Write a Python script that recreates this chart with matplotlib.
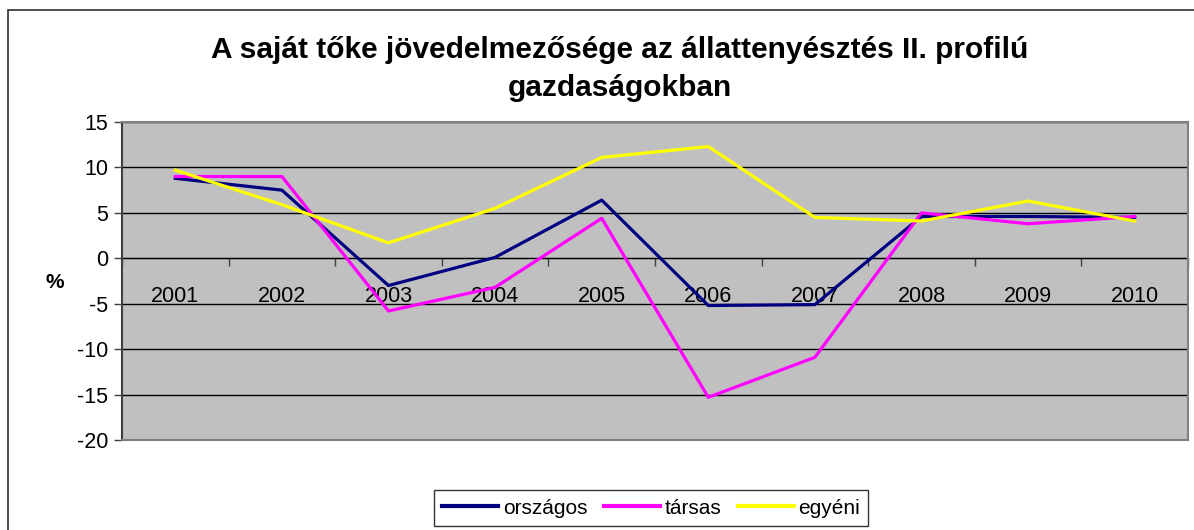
import matplotlib
matplotlib.use("Agg")
import matplotlib.pyplot as plt
from matplotlib.patches import Rectangle

plt.rcParams["font.family"] = ["Liberation Sans", "DejaVu Sans"]
plt.rcParams["axes.unicode_minus"] = False

years = ["2001", "2002", "2003", "2004", "2005", "2006", "2007", "2008", "2009", "2010"]
orszagos = [8.8, 7.5, -3.0, 0.1, 6.4, -5.2, -5.1, 4.6, 4.6, 4.5]
tarsas = [9.0, 9.0, -5.8, -3.2, 4.4, -15.3, -10.9, 5.0, 3.8, 4.6]
egyeni = [9.7, 5.9, 1.7, 5.5, 11.1, 12.3, 4.5, 4.1, 6.3, 4.1]

fig = plt.figure(figsize=(11.94, 5.30), dpi=100)
ax = fig.add_axes([122 / 1194, 1 - 440 / 530, 1066 / 1194, 318 / 530])
ax.set_facecolor("#c0c0c0")

x = list(range(len(years)))
ax.plot(x, orszagos, color="#000080", lw=2.3, label="országos", zorder=3)
ax.plot(x, tarsas, color="#ff00ff", lw=2.3, label="társas", zorder=3)
ax.plot(x, egyeni, color="#ffff00", lw=2.3, label="egyéni", zorder=3)

ax.set_xlim(-0.5, len(years) - 0.5)
ax.set_ylim(-20, 15)
ax.set_yticks(range(-20, 16, 5))
ax.tick_params(axis="y", labelsize=15.5, length=6, width=1, color="#404040", pad=4)
ax.set_xticks([])
ax.yaxis.grid(True, color="black", lw=1)
ax.set_axisbelow(True)
for side in ["top", "right", "bottom"]:
    ax.spines[side].set_color("#808080")
    ax.spines[side].set_linewidth(1.5)
ax.spines["left"].set_color("#404040")
ax.spines["left"].set_linewidth(1.5)

# category axis sits on the zero line
sec = ax.secondary_xaxis(20 / 35)
sec.xaxis.set_ticks_position("bottom")
sec.xaxis.set_label_position("bottom")
sec.spines["bottom"].set_color("black")
sec.spines["bottom"].set_linewidth(1)
sec.set_xticks([i - 0.5 for i in range(len(years) + 1)])
sec.set_xticklabels([])
sec.set_xticks(x, minor=True)
sec.set_xticklabels(years, minor=True)
sec.tick_params(axis="x", which="major", length=6, width=1, color="#404040", direction="out",
                bottom=True, top=False)
sec.tick_params(axis="x", which="minor", length=0, labelsize=15.5, pad=20,
                bottom=True, top=False, labelbottom=True, labeltop=False)

fig.text(55 / 1194, 1 - 283 / 530, "%", fontsize=15, fontweight="bold", ha="center", va="center")

fig.text(620 / 1194, 1 - 50 / 530, "A saját tőke jövedelmezősége az állattenyésztés II. profilú",
         fontsize=21.5, fontweight="bold", ha="center", va="center")
fig.text(620 / 1194, 1 - 88 / 530, "gazdaságokban",
         fontsize=21.5, fontweight="bold", ha="center", va="center")

fig.patches.append(Rectangle((8 / 1194, -0.1), 1.2, 1.081, transform=fig.transFigure,
                             fill=False, edgecolor="#303030", lw=1.2))

leg = fig.legend(loc="center", bbox_to_anchor=(651 / 1194, 1 - 508 / 530), ncol=3,
                 fontsize=15, frameon=True, fancybox=False, handlelength=2.7,
                 handletextpad=0.2, columnspacing=0.8, borderpad=0.4)
leg.get_frame().set_edgecolor("black")
leg.get_frame().set_linewidth(1)
for line in leg.get_lines():
    line.set_linewidth(3)

fig.savefig("out.png", dpi=100)
